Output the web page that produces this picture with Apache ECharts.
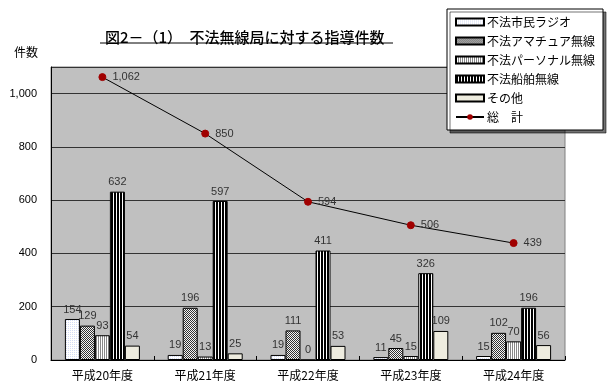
<!DOCTYPE html>
<html><head><meta charset="utf-8">
<script src="https://cdn.jsdelivr.net/npm/echarts@6/dist/echarts.min.js"></script>
<style>html,body{margin:0;padding:0;background:#fff}#c{width:615px;height:387px}</style>
</head><body><div id="c"></div>
<script>
const categories = ['平成20年度','平成21年度','平成22年度','平成23年度','平成24年度'];
const seriesNames = ['不法市民ラジオ','不法アマチュア無線','不法パーソナル無線','不法船舶無線','その他','総　計'];
const citizenRadio = [154, 19, 19, 11, 15];
const amateurRadio = [129, 196, 111, 45, 102];
const personalRadio = [93, 13, 0, 15, 70];
const shipRadio = [632, 597, 411, 326, 196];
const others = [54, 25, 53, 109, 56];
const totals = [1062, 850, 594, 506, 439];
const yTicks = [0, 200, 400, 600, 800, 1000];

function pat(w, h, draw) {
  const c = document.createElement('canvas'); c.width = w; c.height = h;
  const g = c.getContext('2d'); draw(g); return { image: c, repeat: 'repeat' };
}
const p1 = pat(2, 2, g => { g.fillStyle = '#fff'; g.fillRect(0,0,2,2); g.fillStyle = '#d4dcf4'; g.fillRect(0,0,1,1); });
const p2 = pat(2, 2, g => { g.fillStyle = '#f4f4f4'; g.fillRect(0,0,2,2); g.fillStyle = '#333'; g.fillRect(0,0,1,1); g.fillRect(1,1,1,1); });
const p3 = pat(2, 1, g => { g.fillStyle = '#fff'; g.fillRect(0,0,2,1); g.fillStyle = '#888'; g.fillRect(0,0,1,1); });
const p4 = pat(3, 1, g => { g.fillStyle = '#fff'; g.fillRect(0,0,3,1); g.fillStyle = '#000'; g.fillRect(0,0,2,1); });
const p5 = '#eeecdf';

const FONT = '"Liberation Sans","Noto Sans CJK JP",sans-serif';
const JP = '"Noto Sans CJK JP",sans-serif';
const labelStyle = { show: true, position: 'top', distance: 4, color: '#333', fontSize: 11, fontFamily: FONT };
function bar(name, data, color) {
  return { name, type: 'bar', data, barWidth: 15, barGap: '0%',
    itemStyle: { color, borderColor: '#000', borderWidth: 1 },
    label: labelStyle, z: 2 };
}
const chart = echarts.init(document.getElementById('c'));
chart.setOption({
  animation: false,
  backgroundColor: '#fff',
  textStyle: { fontFamily: FONT },
  title: { text: '図2－（1）　不法無線局に対する指導件数', left: 100, top: 25,
    textStyle: { fontSize: 15, fontWeight: 500, color: '#000', fontFamily: JP } },
  graphic: [{ type: 'line', shape: { x1: 100, y1: 43, x2: 393, y2: 43 }, style: { stroke: '#000', lineWidth: 1 } }],
  grid: { left: 51, right: 50, top: 67, bottom: 27, show: true, backgroundColor: '#c0c0c0', borderColor: '#808080', borderWidth: 1 },
  legend: {
    orient: 'vertical', left: 447, top: 9, padding: [7, 8, 7, 8], itemGap: 7,
    itemWidth: 28, itemHeight: 7, backgroundColor: '#fff', borderColor: '#000', borderWidth: 1,
    shadowColor: 'rgba(0,0,0,0.55)', shadowOffsetX: 3, shadowOffsetY: 3, shadowBlur: 0,
    textStyle: { fontSize: 12, color: '#000', fontFamily: JP, padding: [0,0,0,-2] },
    data: seriesNames.map((n, i) => i < 5 ? { name: n, icon: 'rect' } : { name: n })
  },
  xAxis: { type: 'category', data: categories,
    axisLine: { lineStyle: { color: '#000' } },
    axisTick: { show: true, inside: true, length: 4, lineStyle: { color: '#000' } },
    axisLabel: { color: '#000', fontSize: 12, margin: 9, fontFamily: JP } },
  yAxis: { type: 'value', min: 0, max: 1100, interval: 200,
    name: '件数', nameLocation: 'end', nameGap: 9,
    nameTextStyle: { align: 'right', padding: [0, 13, 0, 0], color: '#000', fontSize: 12, fontFamily: JP },
    axisLine: { show: true, lineStyle: { color: '#000' } }, axisTick: { show: false },
    axisLabel: { color: '#000', fontSize: 11, margin: 14,
      formatter: v => yTicks.includes(v) ? v.toLocaleString('en-US') : '' },
    splitLine: { lineStyle: { color: '#333', width: 1 } } },
  series: [
    bar(seriesNames[0], citizenRadio, p1),
    bar(seriesNames[1], amateurRadio, p2),
    bar(seriesNames[2], personalRadio, p3),
    bar(seriesNames[3], shipRadio, p4),
    bar(seriesNames[4], others, p5),
    { name: seriesNames[5], type: 'line', data: totals, symbol: 'circle', symbolSize: 7,
      lineStyle: { color: '#000', width: 1 }, itemStyle: { color: '#a00000', borderColor: '#a00000' },
      label: { show: true, position: 'right', distance: 6, color: '#333', fontSize: 11, fontFamily: FONT,
        formatter: p => p.value.toLocaleString('en-US') }, z: 5 }
  ]
});
</script></body></html>
